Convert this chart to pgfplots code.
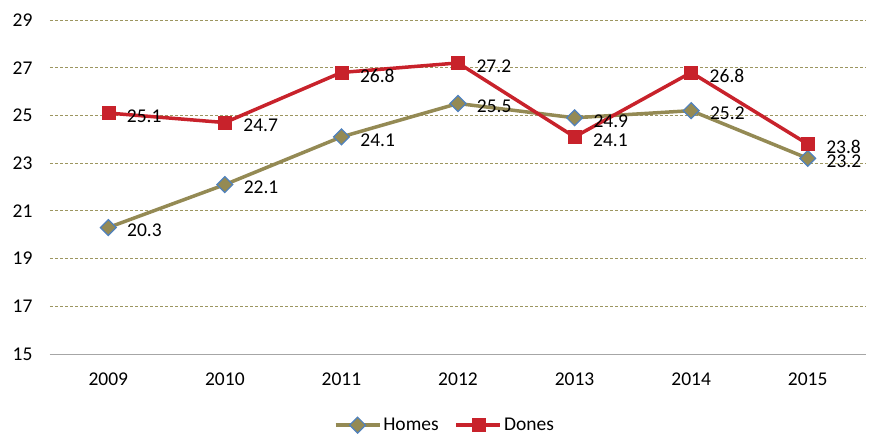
\documentclass[border=0pt]{standalone}
\usepackage{pgfplots}
\pgfplotsset{compat=1.18}
\usepackage{fontspec}
\setmainfont{Carlito}
\definecolor{olv}{HTML}{948A54}
\definecolor{dred}{HTML}{C8222B}
\definecolor{mblue}{HTML}{4F81BD}
\definecolor{gridc}{HTML}{9C9660}
\begin{document}
\begin{tikzpicture}
\begin{axis}[
  scale only axis, width=816pt, height=334pt,
  at={(0,0)}, anchor=south west,
  xmin=-0.5, xmax=6.5, ymin=15, ymax=29,
  xtick={0,...,6}, xticklabels={2009,2010,2011,2012,2013,2014,2015},
  ytick={15,17,...,29},
  ymajorgrids, grid style={gridc, dash pattern=on 3pt off 2pt, line width=0.8pt},
  axis lines*=left,
  y axis line style={draw=none},
  x axis line style={gray!70, line width=0.8pt, -},
  major tick length=0pt,
  tick label style={font=\fontsize{19.5}{22}\selectfont, text=black},
  yticklabel style={xshift=-14pt},
  xticklabel style={yshift=-15pt},
  /pgf/number format/assume math mode=true,
  nodes near coords,
  nodes near coords style={anchor=west, xshift=15pt, yshift=-3pt, text=black, font=\fontsize{19.5}{22}\selectfont, /pgf/number format/.cd, fixed, precision=1, zerofill, assume math mode=true},
  legend style={at={(0.484,-0.213)}, anchor=center, draw=none, legend columns=2, font=\fontsize{19.5}{22}\selectfont, /tikz/every even column/.append style={column sep=14pt}},
  legend image code/.code={\draw[#1, mark repeat=2, mark phase=2] plot coordinates {(0pt,0pt) (22pt,0pt) (44pt,0pt)};},
  clip=false,
]
\addplot[olv, line width=3.5pt, mark=square*, mark size=5.6pt, mark options={rotate=45, fill=olv, draw=mblue, line width=1.2pt}] coordinates {
(0,20.3) (1,22.1) (2,24.1) (3,25.5) (4,24.9) (5,25.2) (6,23.2)};
\addlegendentry{Homes}
\addplot[dred, line width=3.5pt, mark=square*, mark size=6.5pt, mark options={fill=dred, draw=dred, line width=0.5pt}] coordinates {
(0,25.1) (1,24.7) (2,26.8) (3,27.2) (4,24.1) (5,26.8) (6,23.8)};
\addlegendentry{Dones}
\end{axis}
\pgfresetboundingbox
\path[use as bounding box] (-50pt,-81pt) rectangle (819pt,354pt);
\end{tikzpicture}
\end{document}
